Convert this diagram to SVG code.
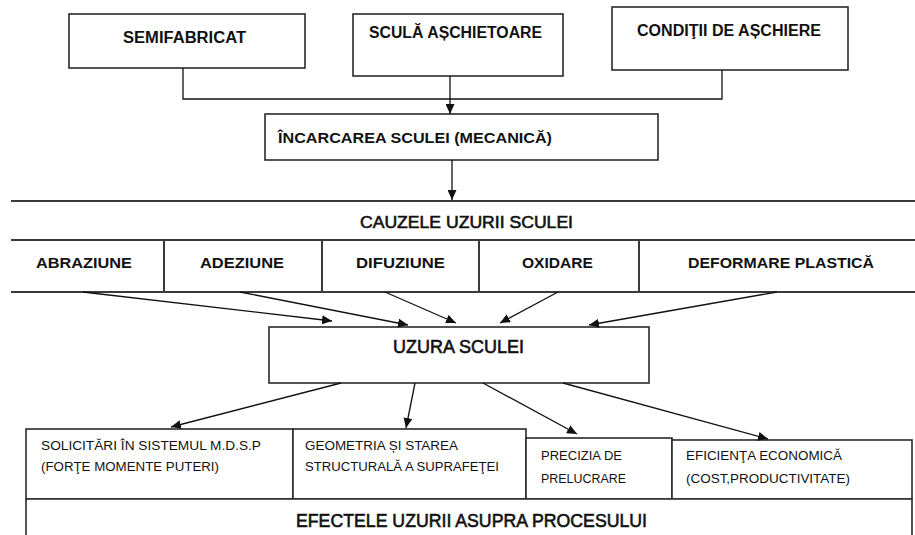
<svg xmlns="http://www.w3.org/2000/svg" width="915" height="535" viewBox="0 0 915 535">
  <defs>
    <marker id="arrow" markerUnits="userSpaceOnUse" markerWidth="11" markerHeight="9" refX="10" refY="4.5" orient="auto">
      <path d="M0,0 L10,4.5 L0,9 z" fill="#111"/>
    </marker>
  </defs>
  <style>
    .box { fill: #fff; stroke: #2a2a2a; stroke-width: 1.6; }
    .rule { stroke: #3a3a3a; stroke-width: 2; fill: none; }
    .link { stroke: #111; stroke-width: 1.3; fill: none; }
    .arr { stroke: #111; stroke-width: 1.3; fill: none; marker-end: url(#arrow); }
    .h { font-family: "Liberation Sans", Arial, sans-serif; font-weight: bold; fill: #111; }
    .t { font-family: "Liberation Sans", Arial, sans-serif; font-weight: normal; fill: #111; stroke: #111; stroke-width: 0.6; }
    .s { font-family: "Liberation Sans", Arial, sans-serif; font-size: 12.5px; fill: #111; }
  </style>
  <rect width="915" height="535" fill="#fff"/>

  <!-- inputs -->
  <g id="semifabricat">
    <rect class="box" x="69" y="14" width="236" height="54"/>
    <text class="h" x="123" y="43" font-size="16" textLength="123" lengthAdjust="spacingAndGlyphs">SEMIFABRICAT</text>
  </g>
  <g id="scula">
    <rect class="box" x="353" y="14" width="210" height="62"/>
    <text class="h" x="369" y="38" font-size="16" textLength="173" lengthAdjust="spacingAndGlyphs">SCULĂ AȘCHIETOARE</text>
  </g>
  <g id="conditii">
    <rect class="box" x="612" y="7" width="236" height="63"/>
    <text class="h" x="637" y="36" font-size="16" textLength="184" lengthAdjust="spacingAndGlyphs">CONDIŢII DE AȘCHIERE</text>
  </g>
  <g id="incarcarea">
    <rect class="box" x="265" y="114" width="393" height="46"/>
    <text class="h" x="278" y="143" font-size="15.5" textLength="274" lengthAdjust="spacingAndGlyphs">ÎNCARCAREA SCULEI (MECANICĂ)</text>
  </g>

  <!-- causes band -->
  <g id="cauze">
    <line class="rule" x1="11" y1="201" x2="915" y2="201"/>
    <line class="rule" x1="11" y1="240" x2="915" y2="240"/>
    <line class="rule" x1="11" y1="292" x2="915" y2="292"/>
    <text class="t" x="360" y="228" font-size="17" textLength="213" lengthAdjust="spacingAndGlyphs">CAUZELE UZURII SCULEI</text>
  </g>
  <g id="abraziune">
    <text class="h" x="36" y="268" font-size="15.5" textLength="96" lengthAdjust="spacingAndGlyphs">ABRAZIUNE</text>
  </g>
  <g id="adeziune">
    <line class="rule" x1="164" y1="240" x2="164" y2="292" stroke-width="1.6"/>
    <text class="h" x="200" y="268" font-size="15.5" textLength="84" lengthAdjust="spacingAndGlyphs">ADEZIUNE</text>
  </g>
  <g id="difuziune">
    <line class="rule" x1="322" y1="240" x2="322" y2="292" stroke-width="1.6"/>
    <text class="h" x="356" y="268" font-size="15.5" textLength="89" lengthAdjust="spacingAndGlyphs">DIFUZIUNE</text>
  </g>
  <g id="oxidare">
    <line class="rule" x1="479" y1="240" x2="479" y2="292" stroke-width="1.6"/>
    <text class="h" x="522" y="268" font-size="15.5" textLength="71" lengthAdjust="spacingAndGlyphs">OXIDARE</text>
  </g>
  <g id="deformare">
    <line class="rule" x1="639" y1="240" x2="639" y2="292" stroke-width="1.6"/>
    <text class="h" x="688" y="268" font-size="15.5" textLength="186" lengthAdjust="spacingAndGlyphs">DEFORMARE PLASTICĂ</text>
  </g>

  <!-- tool wear -->
  <g id="uzura">
    <rect class="box" x="269" y="327" width="380" height="56"/>
    <text class="t" x="393" y="353" font-size="18.5" textLength="131" lengthAdjust="spacingAndGlyphs">UZURA SCULEI</text>
  </g>

  <!-- effects -->
  <g id="solicitari">
    <rect class="box" x="26" y="429" width="267" height="70"/>
    <text class="s" x="41" y="450" textLength="220" lengthAdjust="spacingAndGlyphs">SOLICITĂRI ÎN SISTEMUL M.D.S.P</text>
    <text class="s" x="41" y="471" textLength="178" lengthAdjust="spacingAndGlyphs">(FORŢE MOMENTE PUTERI)</text>
  </g>
  <g id="geometria">
    <rect class="box" x="293" y="429" width="233" height="70"/>
    <text class="s" x="305" y="450" textLength="153" lengthAdjust="spacingAndGlyphs">GEOMETRIA ȘI STAREA</text>
    <text class="s" x="305" y="471" textLength="194" lengthAdjust="spacingAndGlyphs">STRUCTURALĂ A SUPRAFEŢEI</text>
  </g>
  <g id="precizia">
    <rect class="box" x="526" y="438" width="146" height="61"/>
    <text class="s" x="541" y="460" textLength="81" lengthAdjust="spacingAndGlyphs">PRECIZIA DE</text>
    <text class="s" x="541" y="483" textLength="85" lengthAdjust="spacingAndGlyphs">PRELUCRARE</text>
  </g>
  <g id="eficienta">
    <rect class="box" x="672" y="440" width="240" height="59"/>
    <text class="s" x="686" y="460" textLength="156" lengthAdjust="spacingAndGlyphs">EFICIENŢA ECONOMICĂ</text>
    <text class="s" x="686" y="483" textLength="164" lengthAdjust="spacingAndGlyphs">(COST,PRODUCTIVITATE)</text>
  </g>
  <g id="efectele">
    <path class="box" d="M26,540 L26,499 L912,499 L912,540" fill="none"/>
    <text class="t" x="296" y="527" font-size="18.5" textLength="351" lengthAdjust="spacingAndGlyphs">EFECTELE UZURII ASUPRA PROCESULUI</text>
  </g>

  <!-- connectors -->
  <g id="connectors">
    <path class="link" d="M183,68 V99 H722 V70"/>
    <line class="arr" x1="450" y1="76" x2="450" y2="114"/>
    <line class="arr" x1="452" y1="160" x2="452" y2="200"/>
    <line class="arr" x1="83" y1="292" x2="332" y2="321"/>
    <line class="arr" x1="240" y1="292" x2="408" y2="325"/>
    <line class="arr" x1="385" y1="292" x2="456" y2="323"/>
    <line class="arr" x1="558" y1="292" x2="500" y2="323"/>
    <line class="arr" x1="777" y1="292" x2="589" y2="325"/>
    <line class="arr" x1="341" y1="383" x2="171" y2="427"/>
    <line class="arr" x1="415" y1="383" x2="406" y2="428"/>
    <line class="arr" x1="483" y1="383" x2="577" y2="434"/>
    <line class="arr" x1="563" y1="383" x2="768" y2="439"/>
  </g>
</svg>
